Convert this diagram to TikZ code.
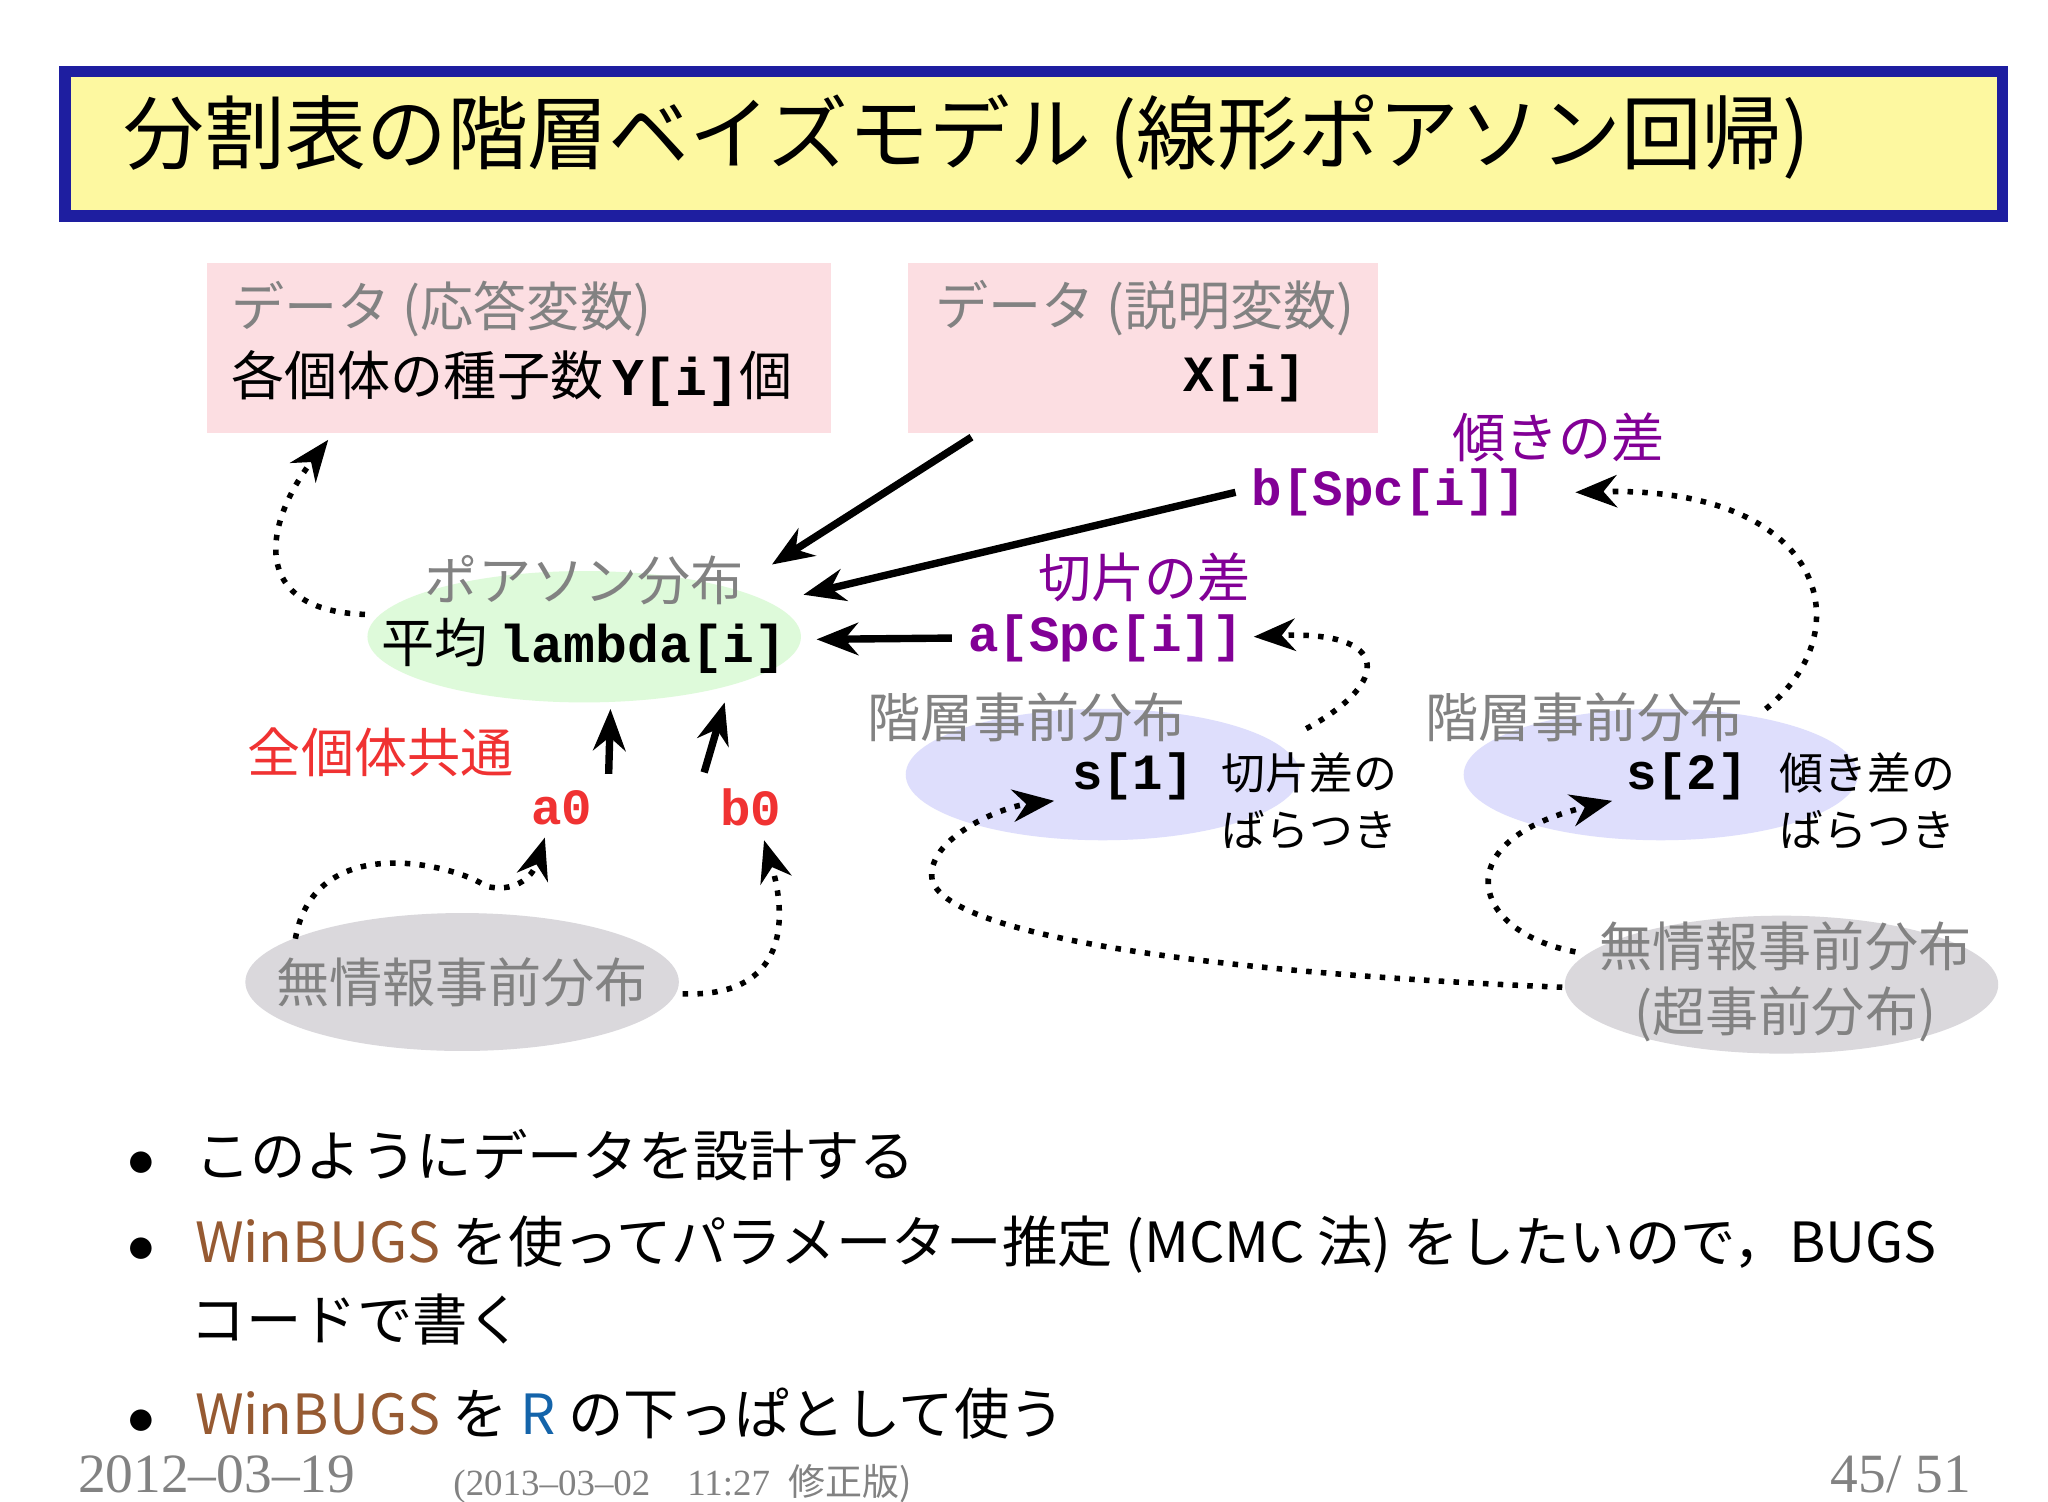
\documentclass[tikz,border=0pt]{standalone}
\usepackage{fontspec}
\setmainfont{Noto Sans CJK JP}
\newfontfamily\codefont{Liberation Mono}
\newfontfamily\footfont{Liberation Serif}
\usetikzlibrary{arrows.meta,positioning,shapes.geometric}
\definecolor{titlebg}{RGB}{253,248,160}
\definecolor{titleframe}{RGB}{30,30,160}
\definecolor{databg}{RGB}{252,222,226}
\definecolor{poisbg}{RGB}{222,250,218}
\definecolor{hierbg}{RGB}{222,222,252}
\definecolor{noinfbg}{RGB}{218,216,220}
\definecolor{vio}{RGB}{130,0,150}
\definecolor{redc}{RGB}{240,50,50}
\definecolor{winb}{RGB}{150,90,50}
\definecolor{rblue}{RGB}{20,100,170}
\definecolor{grayt}{RGB}{130,130,130}
\tikzset{
  code/.style={font=\codefont\bfseries\fontsize{11}{12}\selectfont},
  jp/.style={font=\fontsize{11.5}{14}\selectfont},
  lbl/.style={jp,text=grayt},
  small/.style={font=\fontsize{9.5}{12.5}\selectfont},
  arr/.style={-{Stealth[length=9pt,width=7pt]},line width=1.6pt},
  dots/.style={-{Stealth[length=9pt,width=7pt]},line width=1.2pt,dotted},
  blob/.style={ellipse,minimum width=3.3cm,minimum height=1cm,inner sep=0pt}
}
\begin{document}
\begin{tikzpicture}[x=0.01cm,y=-0.01cm]
\useasboundingbox (0,0) rectangle (1560,1144);
\fill[white] (0,0) rectangle (1560,1144);
% title
\node[draw=titleframe,line width=2.5pt,fill=titlebg,minimum width=14.75cm,minimum height=1.1cm,anchor=north west] (title) at (45,50) {};
\node[anchor=west,font=\fontsize{17.5}{21}\selectfont] at (82,104) {分割表の階層ベイズモデル (線形ポアソン回帰)};
% data boxes
\fill[databg] (158,200) rectangle (633,330);
\fill[databg] (692,200) rectangle (1050,330);
\node[lbl,anchor=west] (ylab) at (164,235) {データ (応答変数)};
\node[jp,anchor=west] (y) at (164,288) {各個体の種子数\,{\codefont\bfseries Y[i]}個};
\node[lbl,anchor=west] (xlab) at (700,235) {データ (説明変数)};
\node[code] (x) at (948,288) {X[i]};
\coordinate (ybox) at (250,335);
\coordinate (xbox) at (740,333);
% ellipses
\node[blob,fill=poisbg,minimum width=3.3cm] (pois) at (445,485) {};
\node[lbl] at (445,442) {ポアソン分布};
\node[jp] (lam) at (445,492) {平均 {\codefont\bfseries lambda[i]}};
\node[blob,fill=hierbg,minimum width=3cm] (h1) at (840,590) {};
\node[blob,fill=hierbg,minimum width=3cm] (h2) at (1265,590) {};
\node[blob,fill=noinfbg,minimum height=1.05cm] (n1) at (352,748) {};
\node[blob,fill=noinfbg,minimum height=1.05cm] (n2) at (1357,750) {};
\node[lbl] at (782,546) {階層事前分布};
\node[lbl] at (1207,546) {階層事前分布};
\node[code] (s1) at (863,591) {s[1]};
\node[code] (s2) at (1285,591) {s[2]};
\node[small,align=left,anchor=west] at (918,610) {切片差の\\ばらつき};
\node[small,align=left,anchor=west] at (1343,610) {傾き差の\\ばらつき};
\node[lbl] at (352,748) {無情報事前分布};
\node[lbl,align=center] at (1360,748) {無情報事前分布\\(超事前分布)};
% parameters
\node[jp,text=vio] at (1187,333) {傾きの差};
\node[code,text=vio] (b) at (1058,375) {b[Spc[i]]};
\node[jp,text=vio] at (872,440) {切片の差};
\node[code,text=vio] (a) at (842,486) {a[Spc[i]]};
\node[jp,text=redc] at (290,573) {全個体共通};
\node[code,text=redc] (a0) at (428,615) {a0};
\node[code,text=redc] (b0) at (572,615) {b0};
% arrows
\draw[arr] (xbox) -- (588,430);
\draw[arr] (b.west) -- (612,453);
\draw[arr] (a.west) -- (622,487);
\draw[arr] (a0.north east) -- (465,540);
\draw[arr] (b0.north west) -- (552,535);
\draw[dots] (278,468) .. controls (190,465) and (200,400) .. (ybox);
\draw[dots] (995,555) .. controls (1060,520) and (1060,480) .. (955,485);
\draw[dots] (1345,540) .. controls (1420,480) and (1390,370) .. (1200,375);
\draw[dots] (225,715) .. controls (240,630) and (350,660) .. (370,675) .. controls (390,680) and (405,670) .. (415,638);
\draw[dots] (520,757) .. controls (600,760) and (600,700) .. (582,640);
\draw[dots] (1190,752) .. controls (900,740) and (720,710) .. (710,670) .. controls (705,640) and (760,615) .. (803,610);
\draw[dots] (1200,725) .. controls (1120,710) and (1100,640) .. (1228,610);
% bullets
\begin{scope}[every node/.style={anchor=west,font=\fontsize{12}{15}\selectfont}]
\node at (85,880) {$\bullet$\hspace{0.3cm}このようにデータを設計する};
\node at (85,948) {$\bullet$\hspace{0.3cm}\textcolor{winb}{WinBUGS} を使ってパラメーター推定 (MCMC 法) をしたいので，BUGS};
\node at (133,1005) {コードで書く};
\node at (85,1077) {$\bullet$\hspace{0.3cm}\textcolor{winb}{WinBUGS} を \textcolor{rblue}{R} の下っぱとして使う};
\end{scope}
\node[font=\footfont\fontsize{12}{14}\selectfont,text=grayt] at (165,1123) {2012–03–19};
\node[font=\footfont\fontsize{8}{9}\selectfont,text=grayt] at (520,1130) {(2013–03–02\quad 11:27\ \ \fontspec{Noto Sans CJK JP}修正版)};
\node[font=\footfont\fontsize{12}{14}\selectfont,text=grayt] at (1448,1123) {45/ 51};
\end{tikzpicture}
\end{document}
